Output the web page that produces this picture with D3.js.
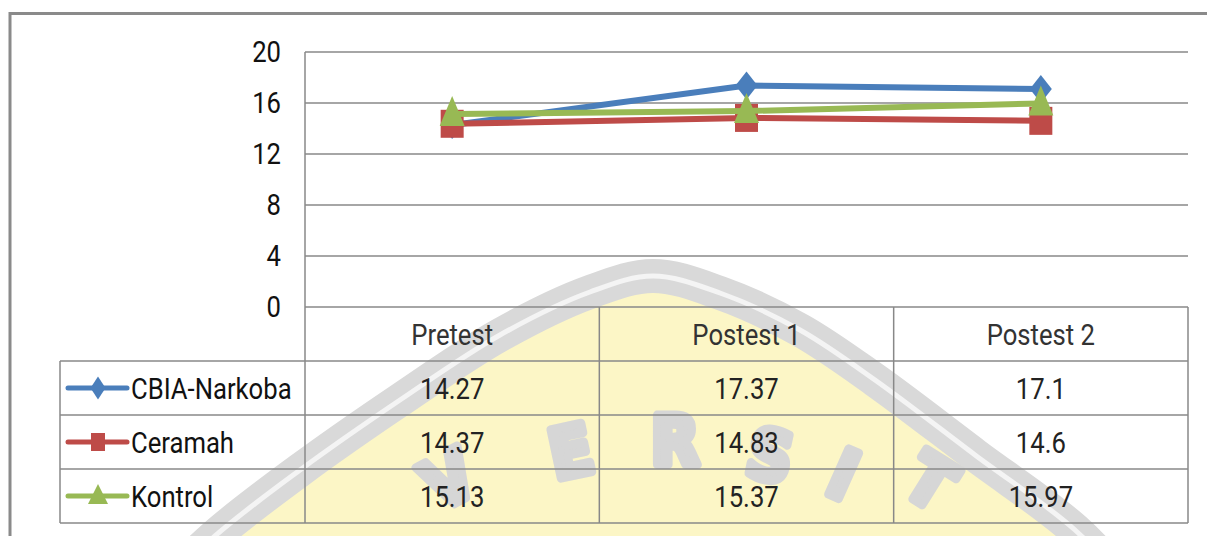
<!DOCTYPE html>
<html>
<head>
<meta charset="utf-8">
<script src="https://cdn.jsdelivr.net/npm/d3@7"></script>
<style>
  body { margin: 0; background: #fff; }
  text { font-family: Roboto, "Noto Sans", sans-serif; }
</style>
</head>
<body>
<div id="chart"></div>
<script>
const categories = ["Pretest", "Postest 1", "Postest 2"];
const seriesNames = ["CBIA-Narkoba", "Ceramah", "Kontrol"];
const cbiaValues = [14.27, 17.37, 17.1];
const ceramahValues = [14.37, 14.83, 14.6];
const kontrolValues = [15.13, 15.37, 15.97];
const yTicks = [0, 4, 8, 12, 16, 20];
const seriesColors = ["#4a7ebb", "#be4b48", "#98b954"];
const seriesMarkers = ["diamond", "square", "triangle"];

const width = 1207, height = 536;

const plot = { left: 305, right: 1188, top: 52, bottom: 307 };
const rowH = 54;
const tableLeft = 60;

const series = seriesNames.map((name, i) => ({
    name: name,
    values: [cbiaValues, ceramahValues, kontrolValues][i],
    color: seriesColors[i],
    marker: seriesMarkers[i],
}));

const svg = d3.select("#chart")
    .append("svg")
    .attr("width", width)
    .attr("height", height);

// narrow text, close to the Calibri look of the original
function label(parent, px, py, str, anchor, color) {
    return parent.append("text")
        .attr("transform", `translate(${px},${py}) scale(0.87,1)`)
        .attr("text-anchor", anchor)
        .attr("dominant-baseline", "central")
        .style("font-size", "29.5px")
        .attr("fill", color || "#222")
        .text(str);
}

// Watermark in the background of the scanned page
function watermark() {
    const g = svg.append("g");
    const pts = [[150, 600], [215, 536], [300, 470], [400, 400], [500, 335], [590, 292],
        [653, 276], [720, 293], [800, 330], [875, 380], [975, 455], [1075, 530], [1140, 600]];
    const line = d3.line().curve(d3.curveCatmullRom);
    g.append("path")
        .attr("d", line(pts) + "Z")
        .attr("fill", "#fcf6c6");
    g.append("path")
        .attr("d", line(pts))
        .attr("fill", "none")
        .attr("stroke", "#d9d9d9")
        .attr("stroke-width", 34);
    g.append("path")
        .attr("d", line(pts))
        .attr("fill", "none")
        .attr("stroke", "#f4f4f4")
        .attr("stroke-width", 5);
    const letters = [
        { t: "V", x: 449, y: 480, r: -28 },
        { t: "E", x: 571, y: 452, r: -12 },
        { t: "R", x: 675, y: 441, r: 0 },
        { t: "S", x: 770, y: 456, r: 12 },
        { t: "I", x: 843, y: 475, r: 24 },
        { t: "T", x: 930, y: 482, r: 32 },
    ];
    g.selectAll("text.wm")
        .data(letters)
        .enter()
        .append("text")
        .attr("class", "wm")
        .attr("transform", d => `translate(${d.x},${d.y}) rotate(${d.r}) scale(1,1.1)`)
        .attr("text-anchor", "middle")
        .attr("dominant-baseline", "central")
        .style("font-family", "'DejaVu Sans', sans-serif")
        .style("font-weight", "bold")
        .style("font-size", "62px")
        .attr("fill", "#d6d6d6")
        .attr("stroke", "#d6d6d6")
        .attr("stroke-width", 8)
        .attr("stroke-linejoin", "round")
        .text(d => d.t);
}
watermark();

// outer chart frame
svg.append("path")
    .attr("d", `M10,${height} L10,13.5 L${width},13.5`)
    .attr("fill", "none")
    .attr("stroke", "#8a8a8a")
    .attr("stroke-width", 3);

const x = d3.scaleBand()
    .domain(categories)
    .range([plot.left, plot.right]);

const y = d3.scaleLinear()
    .domain([0, 20])
    .range([plot.bottom, plot.top]);

const cx = c => x(c) + x.bandwidth() / 2;
const gridColor = "#888";

// gridlines
svg.append("g")
    .selectAll("line")
    .data(yTicks)
    .enter()
    .append("line")
    .attr("x1", plot.left)
    .attr("x2", plot.right)
    .attr("y1", d => y(d))
    .attr("y2", d => y(d))
    .attr("stroke", gridColor)
    .attr("stroke-width", 1.5);

// y tick labels
const yLabels = svg.append("g");
yTicks.forEach(t => label(yLabels, 281, y(t), t, "end", "#111"));

// data table grid
const tableBottom = plot.bottom + rowH * 4;
const table = svg.append("g")
    .attr("stroke", gridColor)
    .attr("stroke-width", 1.5);

table.selectAll("line.v")
    .data([plot.left, x("Postest 1"), x("Postest 2"), plot.right])
    .enter()
    .append("line")
    .attr("x1", d => d)
    .attr("x2", d => d)
    .attr("y1", (d, i) => i === 0 ? plot.top : plot.bottom)
    .attr("y2", tableBottom);

table.selectAll("line.h")
    .data([1, 2, 3, 4])
    .enter()
    .append("line")
    .attr("x1", tableLeft)
    .attr("x2", plot.right)
    .attr("y1", d => plot.bottom + rowH * d)
    .attr("y2", d => plot.bottom + rowH * d);

table.append("line")
    .attr("x1", tableLeft)
    .attr("x2", tableLeft)
    .attr("y1", plot.bottom + rowH)
    .attr("y2", tableBottom);

// header
const header = svg.append("g");
categories.forEach(c => label(header, cx(c), plot.bottom + rowH / 2 + 1, c, "middle", "#333"));

function markerPath(type, w, h) {
    if (type === "diamond") {
        return `M0,${-h / 2}L${w / 2},0L0,${h / 2}L${-w / 2},0Z`;
    }
    if (type === "square") {
        return `M${-w / 2},${-h / 2}h${w}v${h}h${-w}Z`;
    }
    return `M0,${-h * 0.6}L${w / 2},${h * 0.4}L${-w / 2},${h * 0.4}Z`;
}

// table rows
series.forEach((s, i) => {
    const cy = plot.bottom + rowH * (i + 1) + rowH / 2;
    const row = svg.append("g");
    row.append("line")
        .attr("x1", 68)
        .attr("x2", 127)
        .attr("y1", cy)
        .attr("y2", cy)
        .attr("stroke", s.color)
        .attr("stroke-width", 5)
        .attr("stroke-linecap", "round");
    row.append("path")
        .attr("transform", `translate(98,${cy})`)
        .attr("d", s.marker === "diamond" ? markerPath("diamond", 15, 23)
            : s.marker === "square" ? markerPath("square", 14, 18)
            : markerPath("triangle", 20, 20))
        .attr("fill", s.color);
    label(row, 131, cy + 1, s.name, "start", "#111");
    s.values.forEach((v, j) => label(row, cx(categories[j]), cy + 1, v, "middle", "#222"));
});

// lines and markers
const line = d3.line()
    .x((d, j) => cx(categories[j]))
    .y(d => y(d));

series.forEach(s => {
    const g = svg.append("g");
    g.append("path")
        .attr("d", line(s.values))
        .attr("fill", "none")
        .attr("stroke", s.color)
        .attr("stroke-width", 6)
        .attr("stroke-linejoin", "round");
    g.selectAll("path.m")
        .data(s.values)
        .enter()
        .append("path")
        .attr("transform", (d, j) => `translate(${cx(categories[j])},${y(d)})`)
        .attr("d", s.marker === "diamond" ? markerPath("diamond", 22, 28)
            : s.marker === "square" ? markerPath("square", 23, 28)
            : markerPath("triangle", 25, 30))
        .attr("fill", s.color);
});
</script>
</body>
</html>
